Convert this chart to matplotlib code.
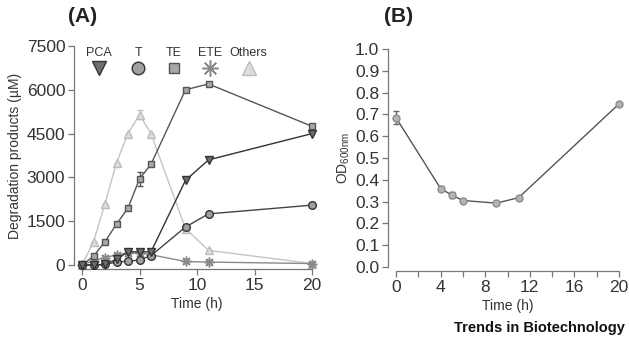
import numpy as np
import matplotlib
matplotlib.use("Agg")
import matplotlib.pyplot as plt

plt.rcParams['font.family'] = ['Liberation Sans', 'DejaVu Sans']

# panel A: degradation products (uM)
time_a = [0, 1, 2, 3, 4, 5, 6, 9, 11, 20]
pca = [0, 0, 20, 200, 450, 450, 450, 2900, 3600, 4500]
t_vals = [0, 0, 20, 100, 130, 170, 320, 1300, 1750, 2050]
te = [0, 300, 800, 1400, 1950, 2950, 3450, 6000, 6200, 4750]
te_err = [0, 0, 0, 0, 0, 250, 0, 0, 0, 0]
ete = [0, 150, 250, 350, 400, 420, 350, 120, 100, 50]
time_oth = [0, 1, 2, 3, 4, 5, 6, 9, 11, 20]
others = [0, 800, 2100, 3500, 4500, 5150, 4500, 1250, 500, 50]
oth_err = [0, 0, 0, 0, 0, 150, 0, 0, 0, 0]

# panel B: OD600
time_b = [0, 4, 5, 6, 9, 11, 20]
od = [0.685, 0.36, 0.33, 0.305, 0.293, 0.318, 0.748]
od_err = [0.03, 0.01, 0.015, 0.008, 0.008, 0.008, 0.005]

legend_names = ['PCA', 'T', 'TE', 'ETE', 'Others']

fig = plt.figure(figsize=(6.29, 3.37), dpi=100)
axA = fig.add_axes([82/629, 72/337, 230/629, 219/337])
axB = fig.add_axes([396/629, 70/337, 223/629, 218/337])

spine_c = '#777777'
txt_c = '#333333'

styles = [
    dict(marker='v', ms=6, mfc='#6e6e6e', mec='#333333', color='#333333'),
    dict(marker='o', ms=5.5, mfc='#a0a0a0', mec='#333333', color='#444444'),
    dict(marker='s', ms=4.8, mfc='#a8a8a8', mec='#555555', color='#555555'),
    dict(marker=(8, 2, 0), ms=7, mfc='#9a9a9a', mec='#8a8a8a', mew=1.1, color='#8a8a8a'),
    dict(marker='^', ms=6, mfc='#dddddd', mec='#bdbdbd', color='#c4c4c4'),
]

# draw light series first so dark ones sit on top
axA.errorbar(time_oth, others, yerr=oth_err, lw=1, capsize=2, clip_on=False, zorder=2, **styles[4])
axA.plot(time_a, ete, lw=1, clip_on=False, zorder=3, **styles[3])
axA.errorbar(time_a, te, yerr=te_err, lw=1, capsize=2, clip_on=False, zorder=4, **styles[2])
axA.plot(time_a, t_vals, lw=1, clip_on=False, zorder=5, **styles[1])
axA.plot(time_a, pca, lw=1, clip_on=False, zorder=6, **styles[0])

axA.set_xlim(0, 20)
axA.set_ylim(0, 7500)
axA.set_xticks([0, 5, 10, 15, 20])
axA.set_yticks([0, 1500, 3000, 4500, 6000, 7500])
axA.set_xlabel('Time (h)', fontsize=10, color=txt_c, labelpad=3)
axA.set_ylabel('Degradation products (\u00b5M)', fontsize=10, color=txt_c, labelpad=3)
fig.text(68/629, 1 - 7/337, '(A)', ha='left', va='top', fontsize=15, fontweight='bold', color='#222222')

# legend: name above marker
leg_x = [0.075, 0.245, 0.40, 0.555, 0.725]
for name, st, lx in zip(legend_names, styles, leg_x):
    axA.text(lx, 0.97, name, transform=axA.transAxes, ha='center', va='center', fontsize=9, color=txt_c)
    s = dict(st)
    s['ms'] = s['ms'] * 1.65
    axA.plot([lx], [0.90], transform=axA.transAxes, ls='none', clip_on=False, **s)

axB.errorbar(time_b, od, yerr=od_err, lw=1, capsize=2, clip_on=False,
             marker='o', ms=5, mfc='#b4b4b4', mec='#8c8c8c', color='#555555', ecolor='#666666')
axB.set_xlim(0, 20)
axB.set_ylim(0, 1.0)
axB.set_xticks([0, 4, 8, 12, 16, 20])
axB.set_xticks([2, 6, 10, 14, 18], minor=True)
axB.set_yticks(np.arange(0, 1.01, 0.1))
axB.set_yticklabels(['%.1f' % v for v in np.arange(0, 1.01, 0.1)])
axB.set_xlabel('Time (h)', fontsize=10, color=txt_c, labelpad=3)
axB.set_ylabel('OD$_{\\mathregular{600nm}}$', fontsize=10, color=txt_c, labelpad=2)
fig.text(384/629, 1 - 7/337, '(B)', ha='left', va='top', fontsize=15, fontweight='bold', color='#222222')

for ax in (axA, axB):
    ax.spines['top'].set_visible(False)
    ax.spines['right'].set_visible(False)
    ax.spines['left'].set_position(('outward', 6))
    ax.spines['bottom'].set_position(('outward', 3))
    for sp in ('left', 'bottom'):
        ax.spines[sp].set_color(spine_c)
        ax.spines[sp].set_linewidth(0.9)
    ax.tick_params(which='both', colors=spine_c, labelcolor=txt_c, labelsize=12.5, length=4, width=0.9, pad=2)

fig.text(0.993, 0.005, 'Trends in Biotechnology', ha='right', va='bottom',
         fontsize=10.5, fontweight='bold', color='#111111')

fig.savefig('out.png', dpi=100)
